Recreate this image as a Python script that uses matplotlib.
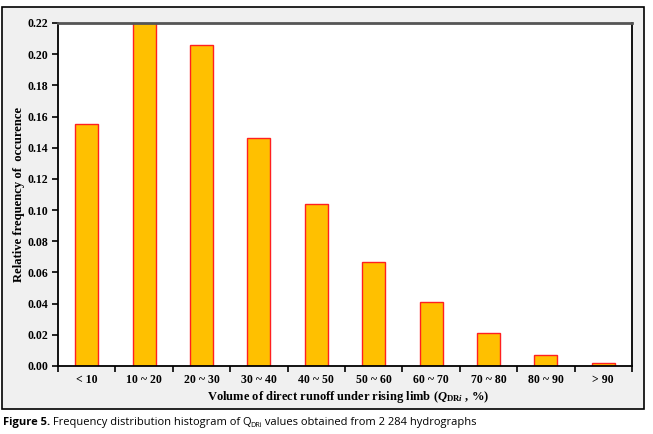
import matplotlib
matplotlib.use("Agg")
import matplotlib.pyplot as plt
from matplotlib.patches import Rectangle
import numpy as np

plt.rcParams["mathtext.fontset"] = "custom"
plt.rcParams["mathtext.bfit"] = "Liberation Serif:bold:italic"
plt.rcParams["mathtext.bf"] = "Liberation Serif:bold"
plt.rcParams["mathtext.rm"] = "Liberation Serif"
plt.rcParams["mathtext.it"] = "Liberation Serif:italic"

categories = ["< 10", "10 ~ 20", "20 ~ 30", "30 ~ 40", "40 ~ 50",
              "50 ~ 60", "60 ~ 70", "70 ~ 80", "80 ~ 90", "> 90"]
values = [0.155, 0.222, 0.206, 0.146, 0.104, 0.067, 0.041, 0.021, 0.007, 0.002]
yticks = [0.00, 0.02, 0.04, 0.06, 0.08, 0.10, 0.12, 0.14, 0.16, 0.18, 0.20, 0.22]

W, H = 653, 434
fig = plt.figure(figsize=(W/100, H/100), dpi=100)
fig.patch.set_facecolor("white")

# outer chart frame
frame = Rectangle((2/W, 1-409/H), 642/W, 402/H, transform=fig.transFigure,
                  facecolor="#f0f0f0", edgecolor="black", linewidth=1.2, zorder=-5)
fig.patches.append(frame)

ax = fig.add_axes([58/W, 1-366/H, 574/W, 343/H])
ax.set_zorder(2)
ax.set_facecolor("white")
x = np.arange(len(categories))
ax.bar(x, values, width=0.4, color="#FFC000", edgecolor="#FF2020", linewidth=1.0,
       zorder=2)
ax.set_xlim(-0.5, len(categories) - 0.5)
ax.set_ylim(0, 0.22)

serif = "Liberation Serif"
ax.set_yticks(yticks)
ax.set_yticklabels([f"{v:.2f}" for v in yticks], fontfamily=serif,
                   fontweight="bold", fontsize=8.5)
ax.set_xticks(x)
ax.set_xticklabels(categories, fontfamily=serif, fontweight="bold", fontsize=8.5)
ax.set_xticks(np.arange(-0.5, len(categories)), minor=True)
ax.tick_params(axis="x", which="major", length=0, pad=5.5)
ax.tick_params(axis="x", which="minor", length=4, direction="out", width=1.2)
ax.tick_params(axis="y", length=4, direction="out", width=1.2, pad=3)

for s in ["left", "bottom", "right"]:
    ax.spines[s].set_color("black")
    ax.spines[s].set_linewidth(1.3)
ax.spines["top"].set_color("#555555")
ax.spines["top"].set_linewidth(2.0)

ax.set_xlabel(r"Volume of direct runoff under rising limb ($\mathbfit{Q}_{\mathbf{DR}\mathbfit{i}}$ , %)",
              fontfamily=serif, fontweight="bold", fontsize=9.0, va="center")
ax.xaxis.set_label_coords((348 - 58) / 574, -(397 - 366) / 343)
ax.set_ylabel("Relative frequency of  occurence", fontfamily=serif,
              fontweight="bold", fontsize=9.1, va="center")
ax.yaxis.set_label_coords((19 - 58) / 574, 0.5)

# caption built from pieces
renderer = fig.canvas.get_renderer()
cap_font = "Open Sans"
cy = 1 - 424.5/H
pieces = [
    ("Figure 5.", dict(fontweight="bold", fontsize=8.0), 0, 0),
    (" Frequency distribution histogram of Q", dict(fontsize=8.0), 0, -1.0),
    ("DRi", dict(fontsize=5.2), -2.5, 0),
    (" values obtained from 2 284 hydrographs", dict(fontsize=8.0), 0, 0),
]
xpix = 3
for txt, kw, dy, adj in pieces:
    t = fig.text(xpix/W, cy + dy/H, txt, fontfamily=cap_font, va="baseline",
                 ha="left", **kw)
    bb = t.get_window_extent(renderer)
    xpix += bb.width + adj

fig.savefig("out.png", dpi=100)
